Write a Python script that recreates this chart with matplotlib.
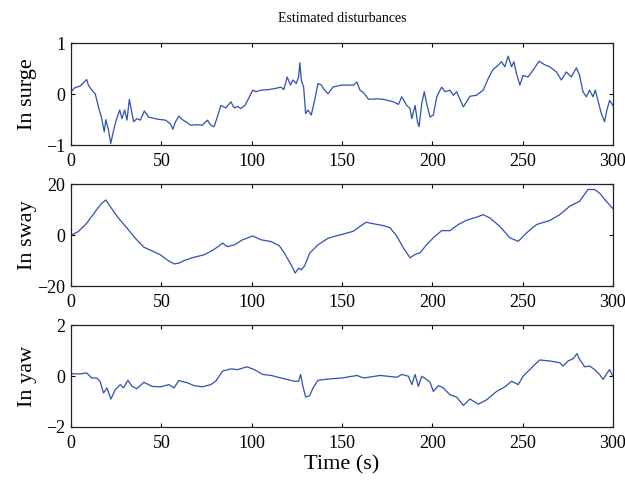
import numpy as np
import matplotlib
matplotlib.use('Agg')
import matplotlib.pyplot as plt

plt.rcParams['font.family'] = ['Liberation Serif', 'DejaVu Serif']

#surge disturbance
t_surge = [0, 2.2, 5, 8.7, 9.6, 11.5, 13.4, 15.2, 17, 18.4, 19.3, 20.8, 22, 23.6, 25, 27, 28.2,
           29.7, 31, 32.3, 33.4, 34.7, 36.5, 38.4, 40.6, 43, 47.7, 52.3, 55, 56.4, 57.9, 59.7,
           61.6, 64.4, 66.2, 70, 72.7, 75.5, 77.4, 79.2, 80.7, 83, 85.7, 88.5, 90.4, 92.2, 94,
           96.3, 97.8, 100.6, 102.4, 105.2, 109, 112.6, 116.3, 117.8, 119.7, 121.5, 122.8, 124.7,
           126, 126.7, 127.5, 128.8, 129.9, 131.2, 133, 134.9, 136.7, 138.6, 140.4, 142.3, 145,
           149.7, 156.4, 158.3, 160, 162, 164.7, 169.3, 173, 178.5, 181.3, 183.1, 185.9, 187.7,
           188.7, 190.5, 191.8, 192.7, 194.2, 195.6, 196.9, 198.8, 200.6, 202.5, 205.2, 207,
           209.8, 211.7, 213.5, 217.2, 220.9, 224.5, 228.2, 231, 233.7, 236.5, 238.3, 240.2,
           242, 243.9, 245.2, 246.6, 248.5, 250.3, 253, 255.8, 259.1, 262.3, 265, 268.7, 271.5,
           274.2, 277, 279.8, 281.6, 283.4, 285.3, 287.1, 289, 290.3, 291.7, 293.6, 295.4, 296.7,
           298.2, 300]
surge = [0.05, 0.13, 0.16, 0.29, 0.18, 0.08, 0.01, -0.25, -0.48, -0.74, -0.50, -0.71, -0.97,
         -0.71, -0.51, -0.31, -0.48, -0.31, -0.51, -0.10, -0.31, -0.54, -0.48, -0.51, -0.33,
         -0.45, -0.49, -0.51, -0.58, -0.69, -0.54, -0.43, -0.50, -0.56, -0.61, -0.60, -0.61,
         -0.51, -0.61, -0.64, -0.48, -0.22, -0.27, -0.15, -0.27, -0.24, -0.28, -0.22, -0.12,
         0.08, 0.05, 0.08, 0.09, 0.11, 0.14, 0.09, 0.34, 0.18, 0.28, 0.21, 0.34, 0.62, 0.28,
         0.14, -0.38, -0.31, -0.41, -0.12, 0.21, 0.18, 0.08, 0.01, 0.14, 0.18, 0.18, 0.24, 0.08,
         0.03, -0.10, -0.09, -0.10, -0.15, -0.20, -0.05, -0.22, -0.28, -0.48, -0.22, -0.54,
         -0.64, -0.18, 0.05, -0.18, -0.45, -0.41, -0.05, 0.14, 0.05, 0.08, -0.02, 0.05, -0.25,
         -0.04, -0.02, 0.08, 0.31, 0.49, 0.57, 0.64, 0.54, 0.75, 0.54, 0.64, 0.41, 0.18, 0.37,
         0.34, 0.47, 0.65, 0.58, 0.54, 0.44, 0.28, 0.44, 0.34, 0.52, 0.37, 0.05, -0.05, 0.08,
         -0.05, 0.08, -0.12, -0.38, -0.54, -0.31, -0.12, -0.22]

#sway disturbance
t_sway = [0, 4, 8.7, 13.4, 17, 19.3, 21.7, 26.3, 31, 35.6, 40.3, 44.9, 49.5, 53.2, 57, 59.7,
          62.5, 68, 73.7, 78.3, 82, 83.9, 86.6, 90.4, 95, 100.6, 105.2, 110.8, 115.4, 118.2,
          121.9, 124.1, 126, 127.5, 129.3, 132.1, 136.7, 142.3, 148.8, 150, 156.4, 160, 163.4,
          167.5, 173, 176.7, 180.4, 184, 187.7, 190.5, 193.3, 196.9, 200.6, 205.2, 209.8, 214.4,
          219, 224.5, 228.2, 231.9, 237.4, 242.9, 247.6, 252.2, 257.7, 265, 270.6, 276.1, 281.6,
          286.2, 289.9, 292.6, 296.3, 300]
sway = [0, 1.4, 4.7, 9.3, 12.6, 13.9, 11.3, 6.7, 2.8, -1.2, -4.7, -6.2, -7.7, -9.7, -11.3,
        -11.0, -10.0, -8.7, -7.7, -6.0, -4.2, -3.1, -4.5, -3.8, -1.8, -0.3, -1.8, -2.5, -4.2,
        -7.1, -11.7, -14.9, -13.0, -13.6, -12.1, -7.1, -3.8, -1.2, 0.1, 0.3, 1.6, 3.5, 5.1, 4.5,
        3.8, 2.9, -0.4, -5.0, -8.9, -7.6, -6.9, -3.7, -1.0, 1.8, 1.8, 4.2, 5.9, 7.1, 8.1, 6.8,
        3.5, -1.0, -2.4, 0.9, 4.2, 5.8, 8.1, 11.4, 13.4, 18.0, 18.0, 16.6, 13.4, 10.5]

#yaw disturbance
t_yaw = [0, 5, 8.7, 11.5, 14.3, 16.1, 18, 19.9, 22.1, 24.5, 27.3, 29.1, 31.5, 33.8, 36.5, 40.3,
         44.9, 49.5, 54.2, 57, 59.7, 64.4, 68.1, 72.7, 77.4, 80.1, 83.9, 88.5, 92.2, 97.4, 101.5,
         106.1, 110.8, 116.3, 123.7, 126, 127.1, 128.4, 129.9, 132.1, 134, 136.7, 140.4, 144.2,
         150, 158.3, 162, 171.2, 180.4, 183.1, 186.8, 188.7, 190.5, 192.3, 194.2, 196.9, 198.8,
         200.6, 203.4, 206.1, 209.8, 213.5, 217.2, 220.9, 225.5, 230.1, 235.6, 240.2, 243.9,
         247.6, 250.3, 254, 256.8, 259.5, 265, 270.6, 272.4, 275.2, 278, 280.1, 281.6, 284.4,
         287.1, 289.9, 292.6, 294.6, 296.3, 298.2, 300]
yaw = [0.10, 0.09, 0.13, -0.07, -0.07, -0.20, -0.66, -0.46, -0.90, -0.53, -0.33, -0.46, -0.16,
       -0.40, -0.49, -0.24, -0.40, -0.42, -0.33, -0.46, -0.17, -0.26, -0.37, -0.42, -0.33, -0.20,
       0.20, 0.29, 0.26, 0.37, 0.26, 0.07, 0.03, -0.07, -0.20, -0.20, 0.07, -0.40, -0.82, -0.77,
       -0.46, -0.16, -0.13, -0.10, -0.07, 0.03, -0.07, 0.03, -0.04, 0.07, 0.00, -0.33, 0.07,
       -0.40, 0.00, -0.13, -0.24, -0.60, -0.37, -0.46, -0.73, -0.82, -1.15, -0.90, -1.10, -0.93,
       -0.60, -0.42, -0.20, -0.33, 0.00, 0.26, 0.46, 0.64, 0.60, 0.53, 0.40, 0.60, 0.69, 0.89,
       0.66, 0.37, 0.40, 0.26, 0.07, -0.13, 0.07, 0.26, 0.00]

xticks = [0, 50, 100, 150, 200, 250, 300]
panels = [
    (t_surge, surge, 'In surge', [-1, 0, 1]),
    (t_sway, sway, 'In sway', [-20, 0, 20]),
    (t_yaw, yaw, 'In yaw', [-2, 0, 2]),
]
bottoms = [0.7016, 0.4115, 0.1214]

fig = plt.figure(figsize=(6.25, 4.86), dpi=100)
for (t, v, lab, yt), b in zip(panels, bottoms):
    ax = fig.add_axes([0.1136, b, 0.867, 0.209])
    ax.plot(t, v, color='#2f52ad', lw=0.9)
    ax.set_xlim(0, 300)
    ax.set_ylim(yt[0], yt[-1])
    ax.set_xticks(xticks)
    ax.set_yticks(yt)
    ax.tick_params(direction='in', top=True, right=True, length=3, width=0.8,
                   labelsize=13)
    ax.tick_params(axis='x', pad=6)
    ax.tick_params(axis='y', pad=4)
    for s in ax.spines.values():
        s.set_linewidth(0.9)
        s.set_color('#222222')
    ax.set_ylabel(lab, fontsize=16)
    ax.yaxis.set_label_coords(-0.062, 0.5)

fig.text(342 / 625, 1 - 18 / 486, 'Estimated disturbances', ha='center', va='center', fontsize=10)
fig.text(342 / 625, 1 - 465 / 486, 'Time (s)', ha='center', va='center', fontsize=16)

plt.savefig('out.png', dpi=100)
